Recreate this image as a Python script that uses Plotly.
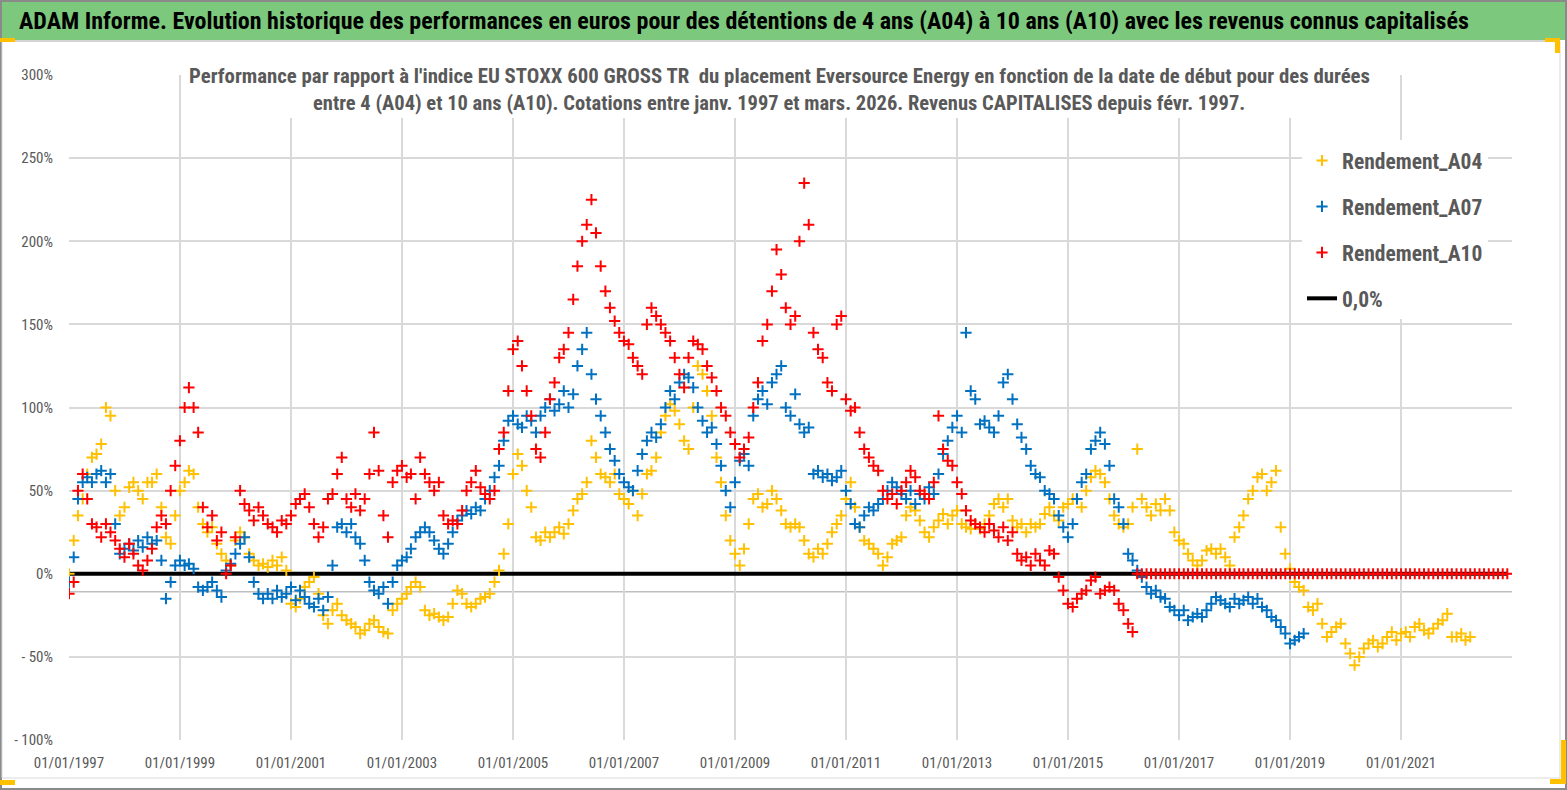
import pandas as pd
import plotly.graph_objects as go

# monthly readings (in %), first value = Jan 1997
A04 = [
    0, 20, 35, 45, 60, 70, 72, 78, 100, 95, 50, 35,           # 1997
    40, 52, 55, 50, 45, 55, 55, 60, 40, 22, 18, 35,           # 1998
    50, 55, 62, 60, 40, 30, 25, 28, 18, 12, 8, 5,             # 1999
    20, 25, 22, 12, 8, 5, 6, 4, 8, 5, 10, 2,                  # 2000
    -18, -20, -15, -8, -5, -2, -12, -25, -30, -22, -18, -25,  # 2001
    -28, -30, -32, -36, -34, -30, -28, -32, -35, -36, -22, -18,  # 2002
    -15, -12, -8, -5, -8, -22, -25, -24, -26, -28, -26, -18,  # 2003
    -10, -12, -18, -20, -18, -15, -14, -12, -5, 2, 12, 30,    # 2004
    60, 72, 65, 50, 40, 22, 20, 25, 22, 25, 28, 24,           # 2005
    30, 38, 45, 48, 55, 80, 70, 60, 58, 55, 60, 48,           # 2006
    45, 42, 50, 35, 48, 60, 62, 70, 85, 95, 102, 98,          # 2007
    90, 80, 75, 100, 125, 120, 110, 95, 70, 55, 35, 20,       # 2008
    12, 5, 15, 30, 45, 48, 40, 42, 50, 45, 38, 30,            # 2009
    28, 30, 28, 20, 12, 10, 15, 12, 18, 25, 30, 35,           # 2010
    45, 55, 40, 28, 20, 18, 15, 12, 5, 10, 18, 20,            # 2011
    22, 35, 40, 38, 32, 25, 22, 28, 32, 36, 30, 35,           # 2012
    38, 30, 28, 27, 30, 27, 30, 35, 42, 45, 40, 45,           # 2013
    32, 28, 30, 25, 30, 28, 30, 36, 40, 35, 32, 40,           # 2014
    42, 45, 45, 40, 50, 58, 62, 60, 55, 45, 35, 30,           # 2015
    28, 30, 40, 75, 45, 40, 35, 42, 38, 45, 38, 25,           # 2016
    20, 18, 12, 8, 5, 8, 14, 15, 12, 15, 10, 5,               # 2017
    22, 28, 35, 45, 50, 58, 60, 50, 55, 62, 28, 12,           # 2018
    3, -5, -8, -10, -20, -22, -18, -30, -38, -35, -32, -30,   # 2019
    -42, -48, -55, -50, -45, -42, -40, -44, -42, -38, -35, -40,  # 2020
    -36, -35, -38, -32, -30, -34, -36, -33, -30, -28, -24, -38,  # 2021
    -38, -36, -40, -38,                                       # 2022
]

A07 = [
    -5, 10, 45, 55, 58, 55, 60, 62, 55, 60, 30, 12,           # 1997
    15, 18, 14, 20, 16, 22, 18, 20, 8, -15, -5, 5,            # 1998
    8, 5, 6, 3, -8, -10, -8, -5, -10, -14, 2, 6,              # 1999
    12, 18, 22, 10, -5, -12, -15, -12, -15, -10, -14, -12,    # 2000
    -8, -16, -10, -14, -18, -20, -15, -22, -14, 5, 28, 30,    # 2001
    25, 30, 22, 18, 8, -5, -10, -12, -8, -18, -5, 5,          # 2002
    8, 10, 15, 22, 25, 28, 25, 20, 15, 12, 18, 25,            # 2003
    32, 35, 38, 36, 40, 38, 45, 50, 58, 65, 80, 92,           # 2004
    95, 90, 88, 95, 92, 85, 95, 100, 105, 98, 102, 110,       # 2005
    100, 108, 125, 135, 145, 120, 105, 95, 85, 75, 68, 60,    # 2006
    55, 52, 50, 62, 72, 80, 85, 82, 90, 100, 110, 105,        # 2007
    115, 120, 118, 112, 100, 92, 85, 88, 78, 65, 50, 40,      # 2008
    55, 68, 72, 65, 95, 105, 110, 102, 115, 120, 125, 100,    # 2009
    95, 108, 90, 85, 88, 60, 62, 58, 60, 56, 58, 62,          # 2010
    50, 42, 30, 28, 35, 40, 38, 42, 45, 50, 55, 52,           # 2011
    48, 45, 50, 42, 48, 45, 52, 48, 60, 72, 80, 88,           # 2012
    95, 85, 145, 110, 105, 90, 92, 88, 85, 95, 115, 120,      # 2013
    105, 90, 82, 75, 65, 60, 58, 50, 48, 45, 35, 28,          # 2014
    22, 30, 45, 55, 60, 75, 80, 85, 78, 65, 45, 40,           # 2015
    30, 12, 8, 2, -2, -8, -12, -10, -14, -15, -20, -22,       # 2016
    -25, -22, -28, -26, -24, -26, -22, -18, -14, -16, -18, -20,  # 2017
    -15, -18, -16, -14, -18, -15, -20, -22, -26, -28, -32, -36,  # 2018
    -42, -40, -38, -36,                                       # 2019
]

A10 = [
    -12, -5, 50, 60, 45, 30, 28, 22, 30, 25, 20, 15,          # 1997
    10, 18, 12, 5, 2, 8, 15, 28, 35, 30, 50, 65,              # 1998
    80, 100, 112, 100, 85, 40, 28, 35, 20, 25, 0, 5,          # 1999
    22, 50, 42, 38, 32, 40, 35, 30, 28, 25, 32, 30,           # 2000
    35, 42, 45, 48, 40, 30, 22, 28, 45, 48, 60, 70,           # 2001
    45, 40, 48, 38, 45, 60, 85, 62, 35, 22, 55, 62,           # 2002
    65, 58, 60, 45, 70, 60, 55, 50, 55, 35, 30, 32,           # 2003
    30, 38, 50, 55, 62, 52, 48, 45, 50, 75, 85, 110,          # 2004
    135, 140, 125, 110, 95, 75, 70, 85, 105, 115, 130, 135,   # 2005
    145, 165, 185, 200, 210, 225, 205, 185, 170, 160, 152, 145,  # 2006
    140, 138, 130, 125, 120, 150, 160, 155, 150, 145, 140, 130,  # 2007
    120, 112, 130, 140, 138, 135, 125, 118, 110, 100, 95, 85,  # 2008
    78, 70, 75, 82, 100, 115, 140, 150, 170, 195, 180, 160,   # 2009
    150, 155, 200, 235, 210, 145, 135, 130, 115, 110, 150, 155,  # 2010
    105, 98, 100, 85, 75, 70, 65, 62, 50, 45, 48, 42,         # 2011
    50, 55, 62, 58, 50, 48, 45, 55, 95, 75, 68, 65,           # 2012
    55, 48, 38, 32, 30, 28, 25, 30, 26, 22, 28, 20,           # 2013
    25, 12, 8, 10, 5, 12, 8, 5, 14, 12, -2, -10,              # 2014
    -18, -20, -15, -12, -10, -4, -2, -12, -10, -8, -10, -18,  # 2015
    -22, -30, -35,                                            # 2016
] + [0] * 81  # no 10-year result yet: shown at 0 up to Dec 2022

X_TICKS = ["1997", "1999", "2001", "2003", "2005", "2007", "2009",
           "2011", "2013", "2015", "2017", "2019", "2021"]
Y_TICKS = [-100, -50, 0, 50, 100, 150, 200, 250, 300]
Y_LABELS = ["- 100%", "- 50%", "0%", "50%", "100%", "150%", "200%", "250%", "300%"]

TITLE = ("ADAM Informe. Evolution historique des performances en euros pour des "
         "détentions de 4 ans (A04) à 10 ans (A10) avec les revenus connus capitalisés")
SUB1 = ("Performance par rapport à l'indice EU STOXX 600 GROSS TR  du placement "
        "Eversource Energy en fonction de la date de début pour des durées")
SUB2 = ("entre 4 (A04) et 10 ans (A10). Cotations entre janv. 1997 et mars. 2026. "
        "Revenus CAPITALISES depuis févr. 1997.")

W, H = 1567, 790
L, R, T, B = 69, 55, 75, 50
FONT = "Liberation Sans Narrow, Arial Narrow, Roboto Condensed, Roboto, sans-serif"
GREY = "#595959"


def px(x):
    return (x - L) / (W - L - R)


def py(y):
    return (H - B - y) / (H - T - B)


def months(n):
    return pd.date_range("1997-01-01", periods=n, freq="MS")


fig = go.Figure()

fig.add_trace(go.Scatter(
    x=["1997-01-01", "2022-12-01"], y=[0, 0], mode="lines",
    line=dict(color="black", width=4), name="0,0%", legendrank=4,
    legendgroup="z"))

series = [("Rendement_A04", A04, "#FFC000"),
          ("Rendement_A07", A07, "#0070C0"),
          ("Rendement_A10", A10, "#FF0000")]
for i, (name, vals, col) in enumerate(series):
    fig.add_trace(go.Scatter(
        x=months(len(vals)), y=vals, mode="markers", name=name,
        legendrank=i + 1, legendgroup=name,
        marker=dict(symbol="cross-thin", size=8, line=dict(color=col, width=2))))

shapes = [
    # green banner
    dict(type="rect", xref="paper", yref="paper", x0=px(0), x1=px(W), y0=py(40), y1=py(2),
         fillcolor="#7cc87d", line=dict(width=0), layer="below"),
    dict(type="line", xref="paper", yref="paper", x0=px(0), x1=px(1560), y0=py(41), y1=py(41),
         line=dict(color="#d0d0d0", width=2)),
    # frames
    dict(type="rect", xref="paper", yref="paper", x0=px(1), x1=px(W - 1), y0=py(H - 1), y1=py(1),
         line=dict(color="#8a8a8a", width=2)),
    dict(type="rect", xref="paper", yref="paper", x0=px(2), x1=px(1560), y0=py(778), y1=py(41),
         line=dict(color="#d9d9d9", width=1)),
    # horizontal axis line
    dict(type="line", xref="paper", yref="y", x0=0, x1=1, y0=-10.8, y1=-10.8,
         line=dict(color="#bfbfbf", width=1.5), layer="below"),
    # white box behind the chart title
    dict(type="rect", xref="paper", yref="paper", x0=px(183), x1=px(1375), y0=py(118), y1=py(62),
         fillcolor="white", line=dict(width=0), layer="above"),
    # selection handles
    dict(type="rect", xref="paper", yref="paper", x0=px(0), x1=px(15), y0=py(42), y1=py(38),
         fillcolor="#FFC000", line=dict(width=0)),
    dict(type="rect", xref="paper", yref="paper", x0=px(1545), x1=px(1560), y0=py(42), y1=py(38),
         fillcolor="#FFC000", line=dict(width=0)),
    dict(type="rect", xref="paper", yref="paper", x0=px(1555), x1=px(1560), y0=py(53), y1=py(38),
         fillcolor="#FFC000", line=dict(width=0)),
    dict(type="rect", xref="paper", yref="paper", x0=px(0), x1=px(15), y0=py(785), y1=py(780),
         fillcolor="#FFC000", line=dict(width=0)),
    dict(type="rect", xref="paper", yref="paper", x0=px(1561), x1=px(1566), y0=py(784), y1=py(740),
         fillcolor="#FFC000", line=dict(width=0)),
    dict(type="rect", xref="paper", yref="paper", x0=px(1550), x1=px(1566), y0=py(784), y1=py(779),
         fillcolor="#FFC000", line=dict(width=0)),
]

annotations = [
    dict(text="<b>" + TITLE + "</b>", xref="paper", yref="paper", x=px(17), y=py(21),
         xanchor="left", yanchor="middle", showarrow=False,
         font=dict(family=FONT, size=24, color="black")),
    dict(text="<b>" + SUB1 + "</b>", xref="paper", yref="paper", x=px(779), y=py(76),
         xanchor="center", yanchor="middle", showarrow=False,
         font=dict(family=FONT, size=20.8, color=GREY)),
    dict(text="<b>" + SUB2 + "</b>", xref="paper", yref="paper", x=px(779), y=py(103),
         xanchor="center", yanchor="middle", showarrow=False,
         font=dict(family=FONT, size=20.5, color=GREY)),
]

fig.update_layout(
    width=W, height=H,
    margin=dict(l=L, r=R, t=T, b=B),
    paper_bgcolor="white", plot_bgcolor="white",
    font=dict(family=FONT, color=GREY),
    shapes=shapes, annotations=annotations,
    legend=dict(x=px(1302), y=py(140), xanchor="left", yanchor="top",
                bgcolor="white", font=dict(size=21.5, color=GREY, family=FONT, weight="bold"),
                tracegroupgap=15, itemwidth=30),
    xaxis=dict(type="date", range=["1997-01-01", "2023-01-01"],
               tickvals=[y + "-01-01" for y in X_TICKS],
               ticktext=["01/01/" + y for y in X_TICKS],
               showgrid=True, gridcolor="#d9d9d9", gridwidth=1.5, zeroline=False,
               showline=False, ticks="", tickfont=dict(size=15, color=GREY),
               ticklabelstandoff=12),
    yaxis=dict(range=[-100, 300], tickvals=Y_TICKS, ticktext=Y_LABELS,
               showgrid=True, gridcolor="#d9d9d9", gridwidth=1.5, zeroline=False,
               showline=False, ticks="", tickfont=dict(size=15, color=GREY),
               ticklabelstandoff=15),
)

fig.write_html("out.html", config={"displayModeBar": False},
               post_script="document.body.style.margin='0';")
